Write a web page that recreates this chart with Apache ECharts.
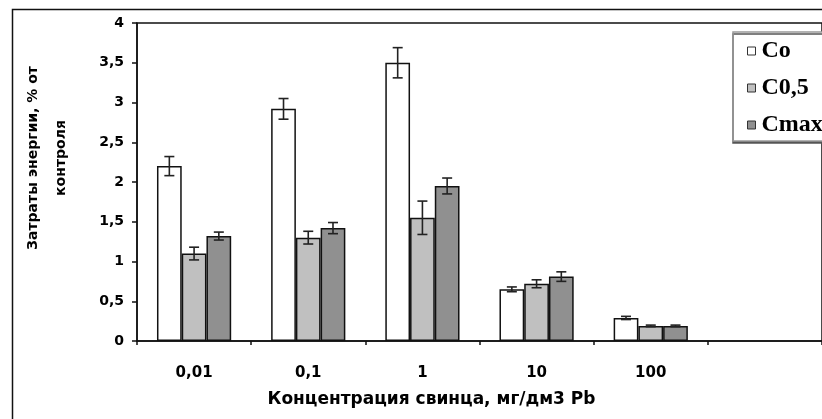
<!DOCTYPE html>
<html>
<head>
<meta charset="utf-8">
<script src="https://cdn.jsdelivr.net/npm/echarts@6/dist/echarts.min.js"></script>
<style>
  html, body { margin: 0; padding: 0; background: #fff; }
  #chart { width: 822px; height: 419px; }
</style>
</head>
<body>
<div id="chart"></div>
<script>
// data
const categories = ['0,01', '0,1', '1', '10', '100', '']
const seriesNames = ['Co', 'C0,5', 'Cmax']
const co      = [2.2, 2.92, 3.5, 0.65, 0.29]
const c05     = [1.1, 1.3, 1.55, 0.72, 0.19]
const cmax    = [1.32, 1.42, 1.95, 0.81, 0.19]
const coErr   = [0.12, 0.13, 0.19, 0.03, 0.02]
const c05Err  = [0.08, 0.08, 0.21, 0.05, 0.01]
const cmaxErr = [0.05, 0.07, 0.10, 0.06, 0.01]
const yTicks  = ['0', '0,5', '1', '1,5', '2', '2,5', '3', '3,5', '4']

const values = [co, c05, cmax]
const errors = [coErr, c05Err, cmaxErr]
const colors = ['#ffffff', '#c0c0c0', '#909090']
const gapRatio = 0.35
const sans = 'DejaVu Sans'

const chart = echarts.init(document.getElementById('chart'))

const barSeries = values.map((v, k) => ({
  name: seriesNames[k], type: 'bar',
  data: v,
  barGap: 0, barCategoryGap: '35%',
  itemStyle: { color: colors[k], borderColor: '#111', borderWidth: 1.5 },
  z: 2,
}))

const errSeries = values.map((v, k) => ({
  type: 'custom',
  data: v.map((m, i) => [i, m, errors[k][i]]),
  encode: { x: 0, y: 1 },
  z: 5, silent: true,
  renderItem(params, api) {
    const bw = api.size([1, 0])[0] * (1 - gapRatio) / 3
    const cx = api.coord([api.value(0), 0])[0] + (k - 1) * bw
    const hi = api.coord([api.value(0), api.value(1) + api.value(2)])[1]
    const lo = api.coord([api.value(0), api.value(1) - api.value(2)])[1]
    const cap = 5
    const st = { stroke: '#222', lineWidth: 1.6 }
    return {
      type: 'group',
      children: [
        { type: 'line', shape: { x1: cx, y1: hi, x2: cx, y2: lo }, style: st },
        { type: 'line', shape: { x1: cx - cap, y1: hi, x2: cx + cap, y2: hi }, style: st },
        { type: 'line', shape: { x1: cx - cap, y1: lo, x2: cx + cap, y2: lo }, style: st },
      ],
    }
  },
}))

chart.setOption({
  animation: false,
  backgroundColor: '#fff',
  grid: {
    left: 137, top: 23, width: 699, height: 318,
    show: true, borderColor: '#111', borderWidth: 1.5, backgroundColor: 'transparent',
  },
  legend: {
    data: seriesNames,
    orient: 'vertical',
    left: 733, top: 32,
    itemWidth: 8, itemHeight: 8, itemGap: 13,
    icon: 'rect',
    padding: [7, 40, 4, 14],
    backgroundColor: '#fff',
    borderColor: '#999', borderWidth: 1.5,
    shadowColor: '#555', shadowOffsetY: 2, shadowOffsetX: 0, shadowBlur: 0,
    itemStyle: { borderColor: '#333', borderWidth: 1 },
    textStyle: { fontFamily: 'Liberation Serif', fontWeight: 'bold', fontSize: 24, color: '#000', padding: [0, 0, 0, 1] },
  },
  xAxis: {
    type: 'category',
    data: categories,
    axisLine: { lineStyle: { color: '#111', width: 1.5 } },
    axisTick: { show: true, length: 4, lineStyle: { color: '#111', width: 1.5 } },
    axisLabel: { margin: 25, fontFamily: sans, fontWeight: 'bold', fontSize: 15, color: '#000' },
    name: 'Концентрация свинца, мг/дм3 Pb',
    nameLocation: 'middle', nameGap: 50,
    nameTextStyle: { fontFamily: sans, fontWeight: 'bold', fontSize: 17, color: '#000', padding: [0, 0, 0, -96] },
  },
  yAxis: {
    type: 'value', min: 0, max: 4, interval: 0.5,
    splitLine: { show: false },
    axisLine: { show: true, lineStyle: { color: '#111', width: 1.5 } },
    axisTick: { show: true, length: 5, lineStyle: { color: '#111', width: 1.5 } },
    axisLabel: {
      margin: 13, fontFamily: sans, fontWeight: 'bold', fontSize: 14, color: '#000',
      formatter: (v) => yTicks[Math.round(v * 2)],
    },
  },
  graphic: [
    {
      type: 'rect', left: 10, top: 7, z: -1,
      shape: { width: 830, height: 430 },
      style: { fill: 'none', stroke: '#111', lineWidth: 1.5 },
    },
    {
      type: 'text', x: 47, y: 158, rotation: Math.PI / 2,
      style: {
        text: 'Затраты энергии, % от\nконтроля',
        fontFamily: sans, fontWeight: 'bold', fontSize: 14, lineHeight: 28,
        fill: '#000', align: 'center', verticalAlign: 'middle',
      },
    },
  ],
  series: [...barSeries, ...errSeries],
})
</script>
</body>
</html>
